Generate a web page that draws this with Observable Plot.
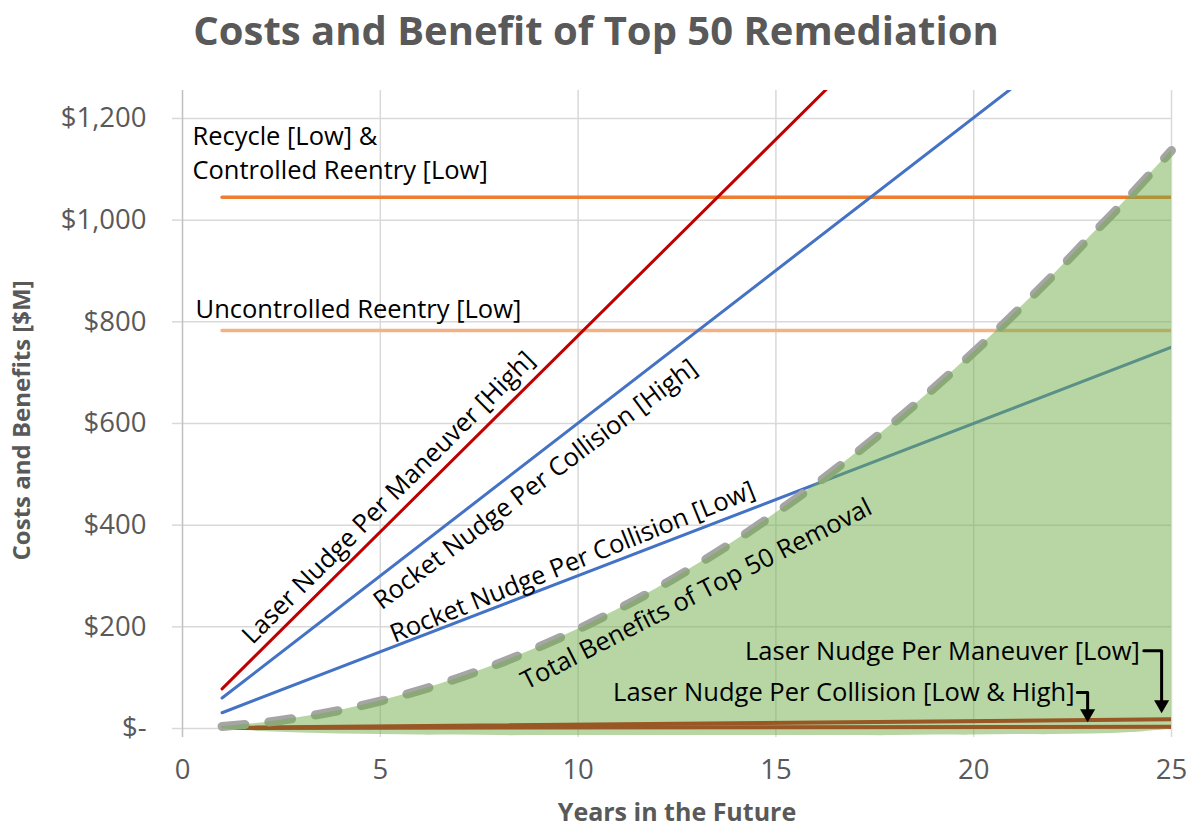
<!DOCTYPE html>
<html><head><meta charset="utf-8">
<script src="https://cdn.jsdelivr.net/npm/d3@7"></script>
<script src="https://cdn.jsdelivr.net/npm/@observablehq/plot@0.6"></script>
<style>
body{margin:0;background:#fff;font-family:"Open Sans",Lato,sans-serif;}
#wrap{position:relative;width:1192px;height:828px;overflow:hidden;background:#fff}
#title{position:absolute;left:0;width:1192px;top:6px;text-align:center;font-weight:700;font-size:40px;color:#595959;line-height:48px}
#chart{position:absolute;left:0;top:62px}
</style></head>
<body>
<div id="wrap"><div id="title">Costs and Benefit of Top 50 Remediation</div><div id="chart"></div></div>
<script>
// ---- data ----
const xTicks = [0, 5, 10, 15, 20, 25];
const yTicks = [0, 200, 400, 600, 800, 1000, 1200];

// Total benefits of Top 50 removal, years 1..25 ($M)
const benefitYears = [1,2,3,4,5,6,7,8,9,10,11,12,13,14,15,16,17,18,19,20,21,22,23,24,25];
const benefitValues = [4,11,22,36,54,75,100,128,160,195,234,276,322,371,424,480,540,603,670,740,814,891,972,1052,1137];
// lower edge of the shaded benefit area
const benefitBase = [-1,-6,-9,-11,-12,-13,-13,-14,-14,-14,-14,-14,-14,-14,-14,-14,-14,-14,-13,-13,-12,-12,-11,-8,-1];

// cost lines (value at year 1 and at year 25)
const costYears = [1, 25];
const laserManeuverHigh = [78, 1931];
const rocketCollisionHigh = [60, 1502];
const rocketCollisionLow = [31, 750];
const recycleControlledLow = [1045, 1045];
const uncontrolledLow = [783, 783];
const laserManeuverLow = [1.5, 18];
const laserCollisionLowHigh = [1, 3.5];

// labels
const diagLabels = [
  {text: "Laser Nudge Per Maneuver [High]", x: 5.21, y: 454, angle: -45},
  {text: "Rocket Nudge Per Collision [High]", x: 8.92, y: 480, angle: -37},
  {text: "Rocket Nudge Per Collision [Low]", x: 9.86, y: 327, angle: -22},
  {text: "Total Benefits of Top 50 Removal", x: 12.99, y: 264, angle: -27}
];
const leftLabels = [
  {text: "Recycle [Low] &", x: 0.25, y: 1164},
  {text: "Controlled Reentry [Low]", x: 0.25, y: 1097},
  {text: "Uncontrolled Reentry [Low]", x: 0.33, y: 824}
];
const rightLabels = [
  {text: "Laser Nudge Per Maneuver [Low]", x: 24.2, y: 151},
  {text: "Laser Nudge Per Collision [Low & High]", x: 22.55, y: 71}
];
const arrow1 = [{x: 24.3, y: 153}, {x: 24.75, y: 153}, {x: 24.75, y: 52}];
const arrow2 = [{x: 22.62, y: 71}, {x: 22.88, y: 71}, {x: 22.88, y: 34}];
const arrowHeads = [{x: 24.75, y: 47}, {x: 22.88, y: 29.5}];
const xTitle = [{text: "Years in the Future", x: 12.5, y: -17.7}];
const yTitle = [{text: "Costs and Benefits [$M]", x: 0, y: 606}];

// ---- build ----
const pairs = (vals) => costYears.map((yr, i) => ({year: yr, value: vals[i]}));
const benefit = benefitYears.map((yr, i) => ({year: yr, value: benefitValues[i], base: benefitBase[i]}));

const costLine = (vals, color, w) => Plot.line(pairs(vals), {x: "year", y: "value", stroke: color, strokeWidth: w, clip: true});
const FONT = '"Open Sans", Lato, sans-serif';
const LABEL = 25.5;

const chart = Plot.plot({
  width: 1192, height: 766,
  marginLeft: 182, marginRight: 21, marginTop: 28, marginBottom: 91,
  x: {domain: [0, 25], axis: null},
  y: {domain: [-17.7, 1255], axis: null},
  style: {fontFamily: FONT, fontSize: "25px", background: "white"},
  marks: [
    Plot.ruleY(yTicks, {stroke: "#d9d9d9", strokeWidth: 1.5}),
    Plot.ruleX(xTicks.filter(d => d > 0), {stroke: "#d9d9d9", strokeWidth: 1.5}),
    Plot.ruleX([0], {stroke: "#bfbfbf", strokeWidth: 1.5}),
    Plot.axisY({ticks: yTicks, tickSize: 10, tickPadding: 26, stroke: "#d9d9d9", strokeWidth: 1.5, fill: "#595959", fontSize: 27.5,
      tickFormat: d => d === 0 ? "$-" : "$" + d3.format(",")(d)}),
    Plot.axisX({ticks: xTicks, tickSize: 0, tickPadding: 22, fill: "#595959", fontSize: 27.5, tickFormat: d => String(d)}),
    costLine(recycleControlledLow, "#ED7D31", 3.5),
    costLine(uncontrolledLow, "#F4B183", 3.5),
    costLine(laserManeuverHigh, "#C00000", 3),
    costLine(rocketCollisionHigh, "#4472C4", 3),
    costLine(rocketCollisionLow, "#4472C4", 3),
    costLine(laserManeuverLow, "#C00000", 4),
    costLine(laserCollisionLowHigh, "#C00000", 4),
    Plot.line(benefit, {x: "year", y: "value", stroke: "#A5A5A5", strokeWidth: 9, strokeDasharray: "23 24", strokeLinecap: "round", curve: "catmull-rom"}),
    Plot.areaY(benefit, {x: "year", y1: "base", y2: "value", fill: "#70AD47", fillOpacity: 0.5, curve: "catmull-rom"}),
    Plot.text(diagLabels, {x: "x", y: "y", text: "text", rotate: "angle", fill: "black", fontSize: LABEL, textAnchor: "middle", lineAnchor: "middle"}),
    Plot.text(leftLabels, {x: "x", y: "y", text: "text", fill: "black", fontSize: LABEL, textAnchor: "start", lineAnchor: "middle"}),
    Plot.text(rightLabels, {x: "x", y: "y", text: "text", fill: "black", fontSize: LABEL, textAnchor: "end", lineAnchor: "middle"}),
    Plot.line(arrow1, {x: "x", y: "y", stroke: "black", strokeWidth: 3}),
    Plot.line(arrow2, {x: "x", y: "y", stroke: "black", strokeWidth: 3}),
    Plot.dot(arrowHeads, {x: "x", y: "y", symbol: "triangle", rotate: 180, r: 5.6, fill: "black", stroke: "none"}),
    Plot.text(xTitle, {x: "x", y: "y", text: "text", dy: 75, fontWeight: "bold", fontSize: 25, fill: "#595959", lineAnchor: "middle"}),
    Plot.text(yTitle, {x: "x", y: "y", text: "text", dx: -160, rotate: -90, fontWeight: "bold", fontSize: 24, fill: "#595959", lineAnchor: "middle"})
  ]
});
document.getElementById("chart").appendChild(chart);
</script>
</body></html>
